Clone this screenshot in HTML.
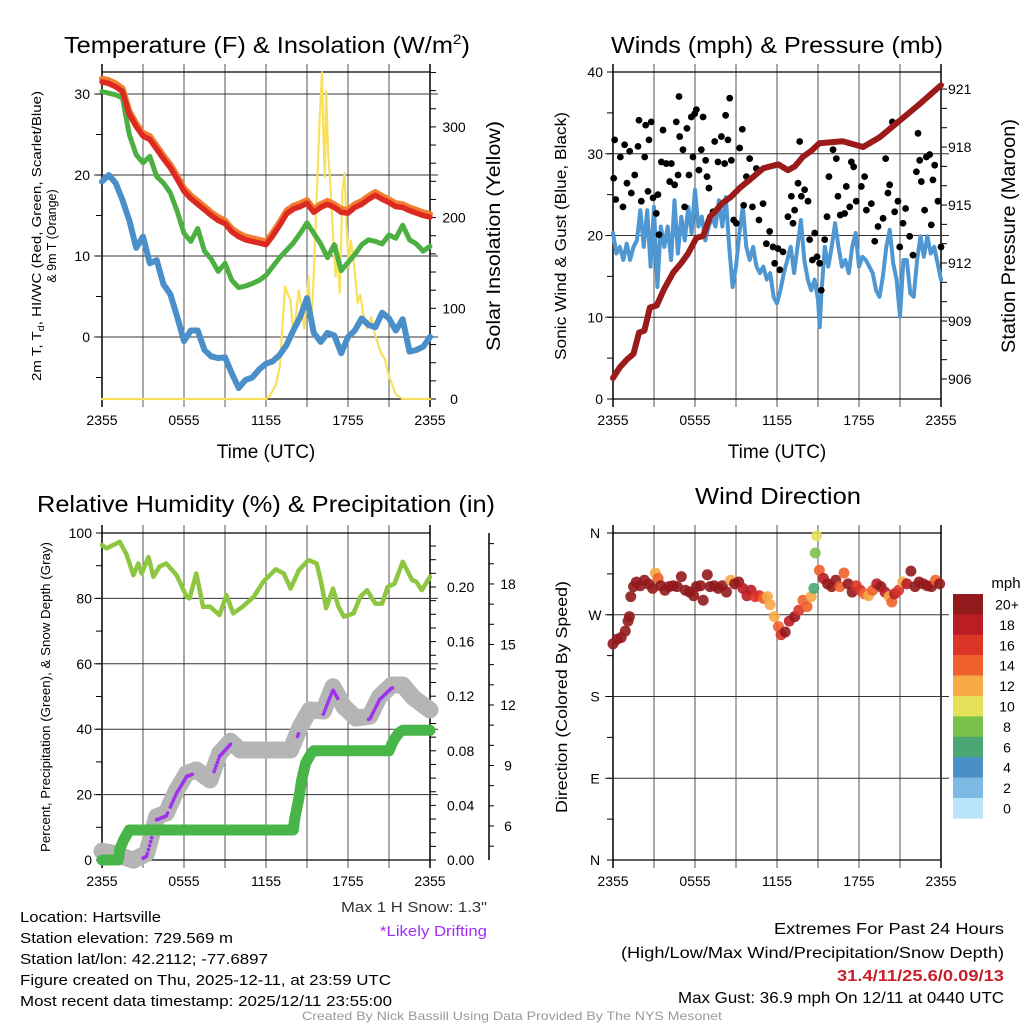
<!DOCTYPE html>
<html><head><meta charset="utf-8"><style>
html,body{margin:0;padding:0;background:#fff;}
svg{display:block;font-family:"Liberation Sans",Arial,sans-serif;}
</style></head><body>
<svg id="chart" width="1024" height="1024" viewBox="0 0 1024 1024" xmlns="http://www.w3.org/2000/svg">
<rect x="0" y="0" width="1024" height="1024" fill="#fff"/>
<g id="layer"></g>
<g fill="#000">
<text x="267" y="53" font-size="23" text-anchor="middle" textLength="406" lengthAdjust="spacingAndGlyphs">Temperature (F) &amp; Insolation (W/m<tspan font-size="14" dy="-9">2</tspan><tspan dy="9">)</tspan></text>
<text x="777" y="53" font-size="23" text-anchor="middle" textLength="332" lengthAdjust="spacingAndGlyphs">Winds (mph) &amp; Pressure (mb)</text>
<text x="266" y="512" font-size="23" text-anchor="middle" textLength="458" lengthAdjust="spacingAndGlyphs">Relative Humidity (%) &amp; Precipitation (in)</text>
<text x="778" y="504" font-size="23" text-anchor="middle" textLength="166" lengthAdjust="spacingAndGlyphs">Wind Direction</text>
<text transform="translate(41,236) rotate(-90)" font-size="12.5" text-anchor="middle" textLength="290" lengthAdjust="spacingAndGlyphs">2m T, T<tspan font-size="9" dy="3">d</tspan><tspan dy="-3">, HI/WC (Red, Green, Scarlet/Blue)</tspan></text>
<text transform="translate(56,236) rotate(-90)" font-size="12.5" text-anchor="middle">&amp; 9m T (Orange)</text>
<text transform="translate(500,236) rotate(-90)" font-size="19" text-anchor="middle" textLength="230" lengthAdjust="spacingAndGlyphs">Solar Insolation (Yellow)</text>
<text x="266" y="458" font-size="19" text-anchor="middle">Time (UTC)</text>
<text x="777" y="458" font-size="19" text-anchor="middle">Time (UTC)</text>
<text transform="translate(566,236) rotate(-90)" font-size="16" text-anchor="middle" textLength="248" lengthAdjust="spacingAndGlyphs">Sonic Wind &amp; Gust (Blue, Black)</text>
<text transform="translate(1015,236) rotate(-90)" font-size="19" text-anchor="middle" textLength="234" lengthAdjust="spacingAndGlyphs">Station Pressure (Maroon)</text>
<text transform="translate(50,697) rotate(-90)" font-size="12.5" text-anchor="middle" textLength="310" lengthAdjust="spacingAndGlyphs">Percent, Precipitation (Green), &amp; Snow Depth (Gray)</text>
<text transform="translate(567,697) rotate(-90)" font-size="16" text-anchor="middle" textLength="232" lengthAdjust="spacingAndGlyphs">Direction (Colored By Speed)</text>
<text x="1006" y="588" font-size="15" text-anchor="middle">mph</text>
<text x="20" y="922" font-size="15" textLength="141" lengthAdjust="spacingAndGlyphs">Location: Hartsville</text>
<text x="20" y="943" font-size="15" textLength="213" lengthAdjust="spacingAndGlyphs">Station elevation: 729.569 m</text>
<text x="20" y="964" font-size="15" textLength="248" lengthAdjust="spacingAndGlyphs">Station lat/lon: 42.2112; -77.6897</text>
<text x="20" y="985" font-size="15" textLength="371" lengthAdjust="spacingAndGlyphs">Figure created on Thu, 2025-12-11, at 23:59 UTC</text>
<text x="20" y="1006" font-size="15" textLength="372" lengthAdjust="spacingAndGlyphs">Most recent data timestamp: 2025/12/11 23:55:00</text>
<text x="487" y="912" font-size="15" text-anchor="end" fill="#333" textLength="146" lengthAdjust="spacingAndGlyphs">Max 1 H Snow: 1.3"</text>
<text x="487" y="936" font-size="15" text-anchor="end" fill="#a030f0" textLength="107" lengthAdjust="spacingAndGlyphs">*Likely Drifting</text>
<text x="1004" y="934" font-size="16" text-anchor="end" textLength="230" lengthAdjust="spacingAndGlyphs">Extremes For Past 24 Hours</text>
<text x="1004" y="958" font-size="16" text-anchor="end" textLength="383" lengthAdjust="spacingAndGlyphs">(High/Low/Max Wind/Precipitation/Snow Depth)</text>
<text x="1004" y="981" font-size="16" font-weight="bold" fill="#c8202a" text-anchor="end" textLength="167" lengthAdjust="spacingAndGlyphs">31.4/11/25.6/0.09/13</text>
<text x="1004" y="1003" font-size="16" text-anchor="end" textLength="326" lengthAdjust="spacingAndGlyphs">Max Gust: 36.9 mph On 12/11 at 0440 UTC</text>
<text x="512" y="1020" font-size="12" fill="#999" text-anchor="middle" textLength="420" lengthAdjust="spacingAndGlyphs">Created By Nick Bassill Using Data Provided By The NYS Mesonet</text>
</g>
</svg>
<script>
// ---------- data ----------
const xTickLabels = ["2355","0555","1155","1755","2355"];
const halfHours = [0,0.5,1,1.5,2,2.5,3,3.5,4,4.5,5,5.5,6,6.5,7,7.5,8,8.5,9,9.5,10,10.5,11,11.5,12,12.5,13,13.5,14,14.5,15,15.5,16,16.5,17,17.5,18,18.5,19,19.5,20,20.5,21,21.5,22,22.5,23,23.5,24];
const tempVals = [31.5,31.3,30.9,30.3,27.5,26,24.8,24.4,23.2,22,20.9,19.5,18,17.1,16.4,15.7,15.0,14.4,14.0,13,12.4,12.0,11.8,11.6,11.4,12.5,13.8,15.2,15.8,16.1,16.5,15.4,16.0,16.4,16.0,15.4,15.3,16.0,16.4,17.0,17.5,17.0,16.6,16.1,16.0,15.6,15.3,15.0,14.8];
const temp9mVals = [31.9,31.7,31.3,30.7,27.9,26.4,25.2,24.8,23.6,22.4,21.3,19.9,18.4,17.5,16.8,16.1,15.4,14.8,14.4,13.4,12.8,12.4,12.2,12.0,11.8,12.9,14.2,15.6,16.2,16.5,16.9,15.8,16.4,16.8,16.4,15.8,15.7,16.4,16.8,17.4,17.9,17.4,17.0,16.5,16.4,16.0,15.7,15.4,15.2];
const hiwcVals = [30.3,30.1,29.9,29.5,25,22.5,21.5,22.3,19.8,19,17.8,15.5,12.8,11.8,13.4,10.6,9.6,8.1,9.1,7,6.1,6.3,6.6,7,7.6,8.7,9.8,10.7,11.6,12.8,14.1,12.8,11.5,9.8,11.4,8.2,9.2,10.2,11.4,12,11.8,11.5,12.6,12.2,13.8,12,11.5,10.6,11.2];
const dewVals = [19.2,20,19,16.9,14.4,11,12.4,9.1,9.5,6.5,5.3,2.5,-0.5,0.8,0.8,-1.6,-2.4,-2.6,-2.5,-4.5,-6.3,-5.3,-5,-4,-3.3,-3,-2.2,-1,0.8,2.5,4.8,0.5,-0.6,0.5,0.2,-2,0,0.8,2.3,1.5,1.2,3,2.3,0.8,2.2,-1.8,-1.6,-1.2,0];
const solarTimes = [0,12,12.3,12.7,13,13.2,13.4,13.6,13.8,14,14.2,14.4,14.6,14.8,15,15.1,15.3,15.5,15.7,15.9,16.1,16.2,16.3,16.4,16.55,16.7,16.8,16.95,17.1,17.2,17.4,17.6,17.75,17.9,18.05,18.2,18.35,18.5,18.7,18.9,19.1,19.4,19.7,20.0,20.4,20.7,21.0,21.5,22,24];
const solarVals = [0,0,4,15,35,80,124,115,109,68,95,120,100,78,110,135,75,140,219,300,360,290,245,340,270,240,212,170,135,170,117,230,249,190,145,175,160,140,106,115,95,78,90,70,51,44,25,5,0,0];
const windTimes = [0,0.25,0.5,0.75,1,1.25,1.5,1.75,2,2.25,2.5,2.75,3,3.25,3.5,3.75,4,4.25,4.5,4.75,5,5.25,5.5,5.75,6,6.25,6.5,6.75,7,7.25,7.5,7.75,8,8.25,8.5,8.75,9,9.25,9.5,9.75,10,10.25,10.5,10.75,11,11.25,11.5,11.75,12,12.25,12.5,12.75,13,13.25,13.5,13.75,14,14.25,14.5,14.75,15,15.125,15.25,15.5,15.75,16,16.25,16.5,16.75,17,17.25,17.5,17.75,18,18.25,18.5,18.75,19,19.25,19.5,19.75,20,20.25,20.5,20.75,21,21.25,21.5,21.75,22,22.25,22.5,22.75,23,23.25,23.5,23.75,24];
const windVals = [20.3,17.8,18.6,17.0,19.0,17.0,18.6,19.4,23.1,18.6,23.1,16.2,23.5,13.7,21.1,18.6,21.1,17.0,24.3,17.8,22.3,19.4,23.5,20.3,25.6,21.1,22.3,19.4,21.1,22.3,21.1,24.3,21.1,24.7,18.6,13.7,16.2,20.3,23.5,18.6,17.0,18.6,16.2,15.4,16.2,14.6,15.4,12.5,11.7,13.3,15.4,17.0,18.6,15.4,18.6,21.9,17.0,14.6,13.3,14.6,12.1,8.8,12.9,18.6,16.2,18.6,21.5,18.6,16.2,17.0,15.4,18.6,20.3,16.2,17.4,17.0,16.2,15.4,13.3,12.5,15.0,18.6,20.7,16.6,14.6,10.1,17.0,17.0,12.9,12.5,17.0,19.9,17.4,19.9,17.8,18.6,16.6,14.6];
const gustTimes = [0.12,0.05,0.2,0.54,0.73,0.85,1.02,1.22,1.34,1.59,1.83,1.9,2.07,2.32,2.39,2.56,2.63,2.8,2.93,3.17,3.29,3.37,3.54,3.66,3.9,4.15,4.27,4.51,4.63,4.76,4.83,4.88,5.12,5.24,5.41,5.56,5.73,5.85,5.98,6.1,6.29,6.46,6.59,6.78,6.88,7.02,7.32,7.44,7.68,7.93,8.17,8.24,8.41,8.54,8.66,8.83,9.02,9.27,9.46,9.56,9.76,10.0,10.2,10.49,10.68,10.98,11.22,11.46,11.71,11.83,12.07,12.2,12.44,12.8,13.05,13.17,13.29,13.54,13.66,13.78,14.02,14.27,14.39,14.59,14.76,14.93,15.12,15.24,15.49,15.66,15.8,16.1,16.34,16.46,16.63,16.95,17.07,17.32,17.44,17.61,17.8,18.17,18.41,18.54,18.9,19.15,19.39,19.76,19.95,20.12,20.24,20.44,20.61,20.85,20.98,21.22,21.41,21.71,21.95,22.2,22.32,22.44,22.56,22.8,22.93,23.17,23.29,23.41,23.54,23.78,24.0];
const gustVals = [31.7,27.0,24.4,29.6,23.5,31.1,26.4,30.3,25.2,27.4,30.9,34.1,24.2,29.6,33.5,25.4,31.7,33.9,24.6,22.7,25.0,20.1,29.0,32.9,28.8,26.6,28.8,26.2,33.9,27.4,37.0,32.1,30.5,23.5,33.1,27.4,34.5,29.6,34.9,35.4,28.0,30.5,34.5,29.2,27.2,25.8,22.9,31.5,29.0,32.1,28.8,34.7,31.7,36.8,29.2,21.9,21.5,30.7,33.0,23.7,27.2,29.4,23.5,28.2,21.9,23.9,19.0,20.5,18.6,16.6,18.4,15.8,18.0,22.3,24.8,21.5,23.1,26.4,31.5,24.8,25.6,24.2,19.5,17.0,20.3,17.4,16.6,13.3,19.5,22.3,27.2,30.5,29.4,24.8,22.5,22.7,26.0,23.5,29.0,28.4,24.2,26.0,27.2,23.1,23.9,19.3,21.1,22.1,29.4,25.2,26.2,33.9,22.9,24.2,18.6,21.5,23.3,19.9,17.6,27.8,32.5,29.2,26.6,23.1,29.6,29.9,21.3,26.8,28.6,24.2,18.6];
const presTimes = [0,0.5,1,1.5,1.9,2.3,2.7,3.2,3.7,4.4,5,5.5,6.1,6.6,7.1,7.4,8,8.6,9.3,10,11,11.5,12.1,12.8,13.3,13.9,14.5,15.1,16.8,18.3,19.5,20.7,22.4,24];
const presVals = [906.05,906.6,907,907.3,908.4,908.5,909.7,909.8,910.6,911.5,912,912.5,913.3,913.4,914.4,914.6,915.1,915.4,915.9,916.3,916.9,917,917.1,916.8,917.0,917.5,917.8,918.2,918.3,918.0,918.5,919.2,920.2,921.2];
const rhTimes = [0,0.34,1.3,1.8,2.3,2.66,2.9,3.4,3.76,4.2,4.7,5.46,6.2,6.4,6.9,7.4,7.9,8.6,9.1,9.6,10.3,11.1,11.8,12.7,13.3,13.8,14.4,15.1,15.7,16,16.4,16.9,17.3,17.7,18.4,18.9,19.4,20,20.5,20.9,21.4,22,22.7,23,23.4,24];
const rhVals = [96.3,95.3,97.3,93.4,87.1,90.7,87.6,92.7,86.6,89.7,90.7,87.1,80.5,80,87.6,77.4,77.5,74.9,81,75.4,77.5,80.5,85.1,88.9,87.6,83,88.6,91.7,90.7,85.6,77,83,77.5,74.4,75.4,80.5,82.5,78.4,78.4,83.5,84.5,91.2,85.6,85.1,82.5,86.6];
const precTimes = [0,1.2,1.3,1.6,2.0,14.0,14.1,14.4,14.6,14.9,15.3,15.5,21.0,21.3,21.7,22.0,24];
const precVals = [0,0,0.008,0.015,0.022,0.022,0.03,0.045,0.058,0.071,0.078,0.08,0.08,0.087,0.093,0.095,0.095];
const snowTimes = [0,0.83,2.3,3.27,4,4.7,5.46,6.2,6.9,7.9,8.6,9.4,10.1,13.8,14.5,15.2,16.2,16.9,17.7,18.6,19.6,20.3,21.2,22,22.8,24];
const snowVals = [4.75,4.65,4.3,4.65,6.46,6.64,7.78,8.61,8.78,8.28,9.6,10.2,9.77,9.77,10.92,11.75,11.7,12.9,11.91,11.35,11.45,12.41,12.99,12.99,12.35,11.75];
const driftStart = [3.0,4.0,5.0,8.2,14.3,16.2,19.5];
const driftEnd = [3.7,4.8,6.6,9.4,14.4,17.3,21.3];
const dirTimes = [0,0.3,0.6,0.9,1.1,1.2,1.3,1.5,1.7,2,2.3,2.6,2.9,3.1,3.3,3.5,3.8,4.1,4.4,4.7,5.0,5.3,5.6,5.9,6.1,6.4,6.6,6.9,7.1,7.4,7.7,8.0,8.3,8.6,8.9,9.2,9.5,9.8,10.1,10.4,10.7,11.0,11.3,11.5,11.8,12.1,12.3,12.6,12.9,13.3,13.6,13.9,14.2,14.5,14.7,14.8,14.9,15.1,15.4,15.7,16.0,16.3,16.6,16.9,17.2,17.5,17.8,18.1,18.4,18.7,19.0,19.3,19.6,19.9,20.2,20.4,20.6,20.9,21.2,21.5,21.8,22.1,22.4,22.7,23.0,23.3,23.6,23.9];
const dirVals = [238,243,245,252,263,268,290,301,306,302,308,304,299,316,310,302,297,301,302,301,312,297,295,291,301,302,286,314,301,302,299,302,295,308,304,306,299,291,297,290,291,288,290,281,268,257,248,251,263,268,275,286,279,290,299,338,357,319,310,304,301,308,301,316,304,295,302,297,293,291,297,304,301,295,290,284,293,297,306,304,318,301,306,304,302,301,308,304];
const dirSpeeds = [20,20,20,20,20,20,20,20,20,20,20,20,20,12,14,20,20,20,20,20,20,20,20,20,20,20,20,20,20,20,20,20,20,13,20,20,18,18,18,16,16,14,12,12,12,14,16,20,18,20,16,14,14,12,7,9,10,14,18,20,20,20,15,14,20,20,16,16,15,13,15,19,20,18,12,14,18,16,12,18,20,20,20,20,20,20,14,20];
const speedBinLabels = ["20+","18","16","14","12","10","8","6","4","2","0"];
const speedColors = ["#921a1c","#bb1d24","#dc3427","#f0622b","#f6aa45","#e6e159","#7bc24c","#4aa774","#4a8fc6","#7cb9e3","#b8e3f8"];

// ---------- helpers ----------
const NS = 'http://www.w3.org/2000/svg';
const layer = document.getElementById('layer');
function mk(tag, a, parent) {
  const e = document.createElementNS(NS, tag);
  for (const k in a) e.setAttribute(k, a[k]);
  (parent || layer).appendChild(e);
  return e;
}
function xScale(P, t) { return P.x0 + t / 24 * (P.x1 - P.x0); }
const P1 = {x0:102, x1:430, y0:72, y1:399};
const P2 = {x0:613, x1:941, y0:72, y1:399};
const P3 = {x0:102, x1:430, y0:533, y1:860};
const P4 = {x0:613, x1:941, y0:533, y1:860};
const tempY = v => 337 - v * 8.1;
const solY = v => 399 - v * 0.907;
const windY = v => 399 - v * 8.175;
const presY = p => 379 - (p - 906) * 19.33;
const rhY = v => 860 - v * 3.27;
const precY = p => 860 - p * 1365;
const snowY = s => 826 - (s - 6) * 20.17;
const dirY = d => 860 - d * 0.9083;

function frame(P, name) {
  const g = mk('g', {});
  
  
  for (let h = 0; h <= 24; h += 3) {
    const x = xScale(P, h);
    const edge = (h === 0 || h === 24);
    const l = mk('line', {x1:x, x2:x, y1:P.y0 - 8, y2:P.y1 + 8, stroke: edge ? '#000' : '#555', 'stroke-width': edge ? 1.5 : 1}, g);
    
    
  }
  const top = mk('line', {x1:P.x0, x2:P.x1, y1:P.y0, y2:P.y0, stroke:'#000', 'stroke-width':1.2}, g);
  
  
  const bot = mk('line', {x1:P.x0, x2:P.x1, y1:P.y1, y2:P.y1, stroke:'#000', 'stroke-width':1.2}, g);
  
  
  xTickLabels.forEach((lab, i) => {
    const t = mk('text', {x: xScale(P, i * 6), y: P.y1 + 26, 'font-size': 14, 'text-anchor': 'middle'}, g);
    
    
    t.textContent = lab;
  });
  return g;
}
function hgrid(P, ys, name) {
  ys.forEach(y => {
    const l = mk('line', {x1:P.x0 - 8, x2:P.x1 + 8, y1:y, y2:y, stroke:'#333', 'stroke-width':1});
    
    
  });
}
function ticks(x, ys, len, name) {
  ys.forEach(y => {
    const l = mk('line', {x1:x, x2:x + len, y1:y, y2:y, stroke:'#000', 'stroke-width':1});
    
    
  });
}
function labels(x, vals, yf, anchor, name, fmt, size) {
  vals.forEach(v => {
    const t = mk('text', {x:x, y: yf(v) + 5, 'font-size': size || 14, 'text-anchor': anchor});
    
    
    t.textContent = fmt ? fmt(v) : v;
  });
}
function line(P, ts, vs, yf, attrs, name) {
  const pts = ts.map((t, i) => xScale(P, t).toFixed(1) + ',' + yf(vs[i]).toFixed(1)).join(' ');
  const a = Object.assign({points: pts, fill: 'none', 'stroke-linejoin': 'round', 'stroke-linecap': 'round'}, attrs);
  const e = mk('polyline', a);
  
  
  return e;
}
function range(a, b, s) { const r = []; for (let v = a; v <= b + 1e-9; v += s) r.push(+v.toFixed(4)); return r; }

// ---------- panel 1: temperature ----------
frame(P1, 'temp');
hgrid(P1, [0,10,20,30].map(tempY), 'temp');
ticks(P1.x0, range(-5, 30, 5).map(tempY), -6, 'temp-left-tick');
labels(P1.x0 - 12, [0,10,20,30], tempY, 'end', 'temp-left-tick-label');
ticks(P1.x1, range(0, 360, 20).filter(v => solY(v) >= P1.y0).map(solY), 6, 'solar-right-tick');
labels(P1.x1 + 24, [0,100,200,300], solY, 'middle', 'solar-tick-label');
line(P1, solarTimes, solarVals, solY, {stroke:'#f9e05b', 'stroke-width':2.2}, 'solar-line');
line(P1, halfHours, dewVals, tempY, {stroke:'#4a8fca', 'stroke-width':6}, 'dewpoint-line');
line(P1, halfHours, hiwcVals, tempY, {stroke:'#4caf42', 'stroke-width':5}, 'hiwc-line');
line(P1, halfHours, temp9mVals, tempY, {stroke:'#f27d31', 'stroke-width':6}, 'temp-9m-line');
line(P1, halfHours, tempVals, tempY, {stroke:'#dc2a22', 'stroke-width':5.5}, 'temp-2m-line');

// ---------- panel 2: winds ----------
frame(P2, 'wind');
hgrid(P2, [10,20,30].map(windY), 'wind');
ticks(P2.x0, range(0, 40, 5).map(windY), -6, 'wind-left-tick');
labels(P2.x0 - 10, [0,10,20,30,40], windY, 'end', 'wind-tick-label');
ticks(P2.x1, range(906, 921, 1).map(presY), 6, 'pressure-tick');
labels(P2.x1 + 7, [906,909,912,915,918,921], presY, 'start', 'pressure-tick-label');
line(P2, windTimes, windVals, windY, {stroke:'#4f97d2', 'stroke-width':4}, 'sonic-wind-line');
gustTimes.forEach((t, i) => {
  const c = mk('circle', {cx: xScale(P2, t), cy: windY(gustVals[i]), r: 3.4, fill: '#000'});
  
  
});
line(P2, presTimes, presVals, presY, {stroke:'#9b1b1b', 'stroke-width':6}, 'pressure-line');

// ---------- panel 3: RH & precip ----------
frame(P3, 'rh');
hgrid(P3, [20,40,60,80].map(rhY), 'rh');
ticks(P3.x0, range(0, 100, 10).map(rhY), -6, 'rh-left-tick');
labels(P3.x0 - 10, [0,20,40,60,80,100], rhY, 'end', 'rh-tick-label');
ticks(P3.x1, range(0, 0.24, 0.01).map(precY).filter(y => y >= P3.y0), 6, 'precip-tick');
labels(P3.x1 + 17, [0,0.04,0.08,0.12,0.16,0.20], precY, 'start', 'precip-tick-label', v => v.toFixed(2));
const snowAxis = mk('line', {x1:489, x2:489, y1:P3.y0, y2:P3.y1, stroke:'#000', 'stroke-width':1.5});


ticks(489, range(5, 20, 1).map(snowY).filter(y => y >= P3.y0 && y <= P3.y1), 5, 'snow-tick');
labels(508, [6,9,12,15,18], snowY, 'middle', 'snow-tick-label');
line(P3, snowTimes, snowVals, snowY, {stroke:'#b5b5b5', 'stroke-width':17}, 'snow-depth-line');
function interp(ts, vs, t) {
  for (let i = 1; i < ts.length; i++) if (t <= ts[i]) { const f = (t - ts[i-1]) / (ts[i] - ts[i-1]); return vs[i-1] + f * (vs[i] - vs[i-1]); }
  return vs[vs.length - 1];
}
driftStart.forEach((s, k) => {
  for (let t = s; t <= driftEnd[k] + 1e-6; t += 0.08) {
    const c = mk('circle', {cx: xScale(P3, t), cy: snowY(interp(snowTimes, snowVals, t)) + 3, r: 1.8, fill: '#a030f0'});
    
    
  }
});
line(P3, precTimes, precVals, precY, {stroke:'#48b548', 'stroke-width':11}, 'precip-line');
line(P3, rhTimes, rhVals, rhY, {stroke:'#8dc640', 'stroke-width':4.5}, 'rh-line');

// ---------- panel 4: wind direction ----------
frame(P4, 'dir');
hgrid(P4, [270,180,90].map(dirY), 'dir');
ticks(P4.x0, range(0, 360, 45).map(dirY), -6, 'dir-left-tick');
const dirLabelVals = [360,270,180,90,0];
const dirLabelText = ["N","W","S","E","N"];
dirLabelVals.forEach((v, i) => {
  const t = mk('text', {x: P4.x0 - 18, y: dirY(v) + 5, 'font-size': 14, 'text-anchor': 'middle'});
  
  
  t.textContent = dirLabelText[i];
});
function speedColor(s) {
  let idx = 10 - Math.min(10, Math.floor(s / 2));
  return speedColors[idx];
}
dirTimes.forEach((t, i) => {
  const c = mk('circle', {cx: xScale(P4, t), cy: dirY(dirVals[i]), r: 5.5, fill: speedColor(dirSpeeds[i]), 'fill-opacity': 0.9});
  
  
});
// colorbar
speedBinLabels.forEach((lab, i) => {
  const y = 594 + i * 20.4;
  const r = mk('rect', {x: 953, y: y, width: 30, height: 20.6, fill: speedColors[i]});
  
  
  const t = mk('text', {x: 1007, y: y + 15.5, 'font-size': 14, 'text-anchor': 'middle'});
  
  
  t.textContent = lab;
});
</script>
</body></html>
